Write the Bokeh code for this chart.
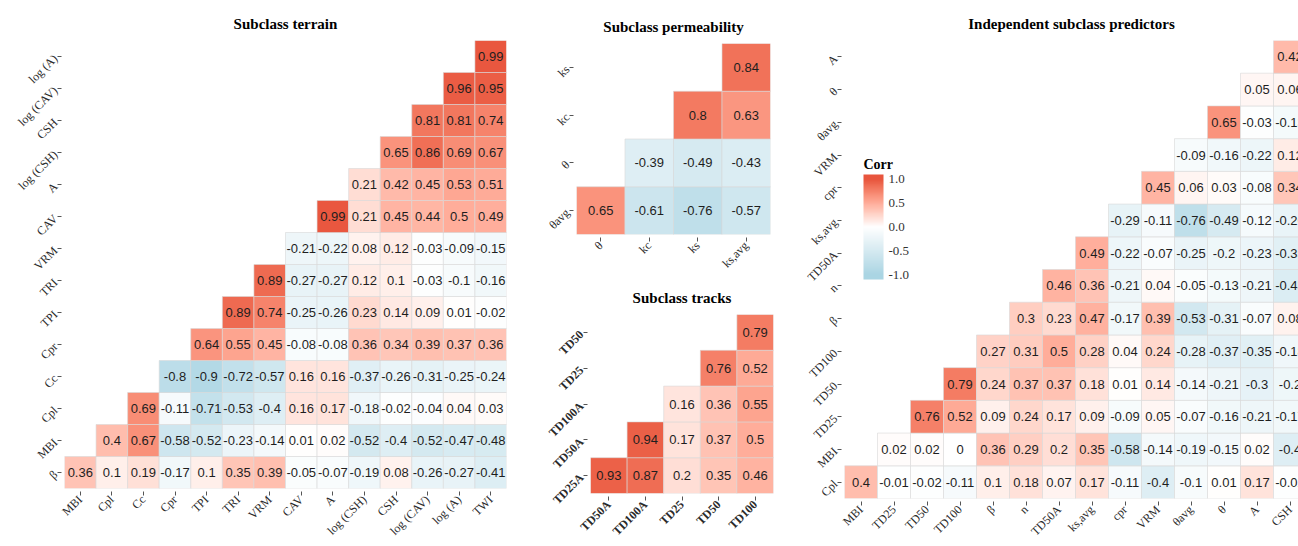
import math
import numpy as np
from bokeh.plotting import figure
from bokeh.layouts import row, column
from bokeh.models import (ColumnDataSource, LinearColorMapper, ColorBar, FixedTicker,
                          PrintfTickFormatter, Range1d, Label)
from bokeh.transform import transform
from bokeh.core.properties import value
from bokeh.embed import file_html
from bokeh.resources import INLINE

# ---------------- data (rows listed bottom -> top; row k starts at column k) -------------
terrain_x = ["MBI", "Cpl", "Cc", "Cpr", "TPI", "TRI", "VRM", "CAV", "A",
             "log (CSH)", "CSH", "log (CAV)", "log (A)", "TWI"]
terrain_y = ["β", "MBI", "Cpl", "Cc", "Cpr", "TPI", "TRI", "VRM", "CAV", "A",
             "log (CSH)", "CSH", "log (CAV)", "log (A)"]
terrain_r = [
    [0.36, 0.1, 0.19, -0.17, 0.1, 0.35, 0.39, -0.05, -0.07, -0.19, 0.08, -0.26, -0.27, -0.41],
    [0.4, 0.67, -0.58, -0.52, -0.23, -0.14, 0.01, 0.02, -0.52, -0.4, -0.52, -0.47, -0.48],
    [0.69, -0.11, -0.71, -0.53, -0.4, 0.16, 0.17, -0.18, -0.02, -0.04, 0.04, 0.03],
    [-0.8, -0.9, -0.72, -0.57, 0.16, 0.16, -0.37, -0.26, -0.31, -0.25, -0.24],
    [0.64, 0.55, 0.45, -0.08, -0.08, 0.36, 0.34, 0.39, 0.37, 0.36],
    [0.89, 0.74, -0.25, -0.26, 0.23, 0.14, 0.09, 0.01, -0.02],
    [0.89, -0.27, -0.27, 0.12, 0.1, -0.03, -0.1, -0.16],
    [-0.21, -0.22, 0.08, 0.12, -0.03, -0.09, -0.15],
    [0.99, 0.21, 0.45, 0.44, 0.5, 0.49],
    [0.21, 0.42, 0.45, 0.53, 0.51],
    [0.65, 0.86, 0.69, 0.67],
    [0.81, 0.81, 0.74],
    [0.96, 0.95],
    [0.99],
]

perm_x = ["θ", "kc", "ks", "ks,avg"]
perm_y = ["θavg", "θ", "kc", "ks"]
perm_r = [
    [0.65, -0.61, -0.76, -0.57],
    [-0.39, -0.49, -0.43],
    [0.8, 0.63],
    [0.84],
]

tracks_x = ["TD50A", "TD100A", "TD25", "TD50", "TD100"]
tracks_y = ["TD25A", "TD50A", "TD100A", "TD25", "TD50"]
tracks_r = [
    [0.93, 0.87, 0.2, 0.35, 0.46],
    [0.94, 0.17, 0.37, 0.5],
    [0.16, 0.36, 0.55],
    [0.76, 0.52],
    [0.79],
]

indep_x = ["MBI", "TD25", "TD50", "TD100", "β", "n", "TD50A", "ks,avg", "cpr", "VRM",
           "θavg", "θ", "A", "CSH"]
indep_y = ["Cpl", "MBI", "TD25", "TD50", "TD100", "β", "n", "TD50A", "ks,avg", "cpr",
           "VRM", "θavg", "θ", "A"]
indep_r = [
    [0.4, -0.01, -0.02, -0.11, 0.1, 0.18, 0.07, 0.17, -0.11, -0.4, -0.1, 0.01, 0.17, -0.02],
    [0.02, 0.02, 0, 0.36, 0.29, 0.2, 0.35, -0.58, -0.14, -0.19, -0.15, 0.02, -0.4],
    [0.76, 0.52, 0.09, 0.24, 0.17, 0.09, -0.09, 0.05, -0.07, -0.16, -0.21, -0.17],
    [0.79, 0.24, 0.37, 0.37, 0.18, 0.01, 0.14, -0.14, -0.21, -0.3, -0.2],
    [0.27, 0.31, 0.5, 0.28, 0.04, 0.24, -0.28, -0.37, -0.35, -0.18],
    [0.3, 0.23, 0.47, -0.17, 0.39, -0.53, -0.31, -0.07, 0.08],
    [0.46, 0.36, -0.21, 0.04, -0.05, -0.13, -0.21, -0.43],
    [0.49, -0.22, -0.07, -0.25, -0.2, -0.23, -0.35],
    [-0.29, -0.11, -0.76, -0.49, -0.12, -0.26],
    [0.45, 0.06, 0.03, -0.08, 0.34],
    [-0.09, -0.16, -0.22, 0.12],
    [0.65, -0.03, -0.13],
    [0.05, 0.06],
    [0.42],
]

colorbar_ticks = [-1.0, -0.5, 0.0, 0.5, 1.0]

# ---------------- colour scale (white midpoint, Lab interpolation) ----------------
LOW_COL = "#AAD5E3"
MID_COL = "#FFFFFF"
HIGH_COL = "#E8553D"


def _hex2rgb(h):
    h = h.lstrip("#")
    return np.array([int(h[i:i + 2], 16) / 255.0 for i in (0, 2, 4)])


def _rgb2lab(c):
    c = np.where(c > 0.04045, ((c + 0.055) / 1.055) ** 2.4, c / 12.92)
    M = np.array([[0.4124, 0.3576, 0.1805], [0.2126, 0.7152, 0.0722], [0.0193, 0.1192, 0.9505]])
    xyz = M @ c / np.array([0.95047, 1.0, 1.08883])
    f = np.where(xyz > 0.008856, np.cbrt(xyz), 7.787 * xyz + 16 / 116)
    return np.array([116 * f[1] - 16, 500 * (f[0] - f[1]), 200 * (f[1] - f[2])])


def _lab2hex(lab):
    fy = (lab[0] + 16) / 116
    fx = fy + lab[1] / 500
    fz = fy - lab[2] / 200
    f = np.array([fx, fy, fz])
    xyz = np.where(f ** 3 > 0.008856, f ** 3, (f - 16 / 116) / 7.787) * np.array([0.95047, 1.0, 1.08883])
    Mi = np.array([[3.2406, -1.5372, -0.4986], [-0.9689, 1.8758, 0.0415], [0.0557, -0.2040, 1.0570]])
    c = Mi @ xyz
    c = np.where(c > 0.0031308, 1.055 * np.clip(c, 0, None) ** (1 / 2.4) - 0.055, 12.92 * c)
    c = np.clip(np.round(c * 255), 0, 255).astype(int)
    return "#%02x%02x%02x" % tuple(c)


_LAB_LOW, _LAB_MID, _LAB_HIGH = (_rgb2lab(_hex2rgb(c)) for c in (LOW_COL, MID_COL, HIGH_COL))


def make_palette(lo, hi, n=221):
    pal = []
    for v in np.linspace(lo, hi, n):
        v = max(-1.0, min(1.0, v))
        if v < 0:
            lab = _LAB_MID + (-v) * (_LAB_LOW - _LAB_MID)
        else:
            lab = _LAB_MID + v * (_LAB_HIGH - _LAB_MID)
        pal.append(_lab2hex(lab))
    return pal


mapper = LinearColorMapper(palette=make_palette(-1, 1), low=-1, high=1)

SERIF = "Liberation Serif"
SANS = "Liberation Sans"


def panel(title, xs, ys, rows, width, height, borders, x_end=None, bold_labels=False):
    left, right, top, bottom = borders
    xv, yv, rv, lab = [], [], [], []
    for i, rvals in enumerate(rows):
        for j, r in enumerate(rvals):
            xv.append(i + j)
            yv.append(i)
            rv.append(r)
            lab.append("%g" % r)
    src = ColumnDataSource(dict(x=xv, y=yv, r=rv, label=lab))
    n = len(xs)
    p = figure(width=width, height=height, title=title,
               x_range=Range1d(-0.5, n - 0.5 if x_end is None else x_end),
               y_range=Range1d(-0.5, len(ys) - 0.5),
               output_backend="svg", toolbar_location=None,
               min_border_left=left, min_border_right=right,
               min_border_top=top, min_border_bottom=bottom)
    p.rect("x", "y", width=1, height=1, source=src,
           fill_color=transform("r", mapper), line_color="#d8d8d8", line_width=0.6)
    p.text("x", "y", text="label", source=src, text_align="center", text_baseline="middle",
           text_font=value(SANS), text_font_size="13px", text_color="#1e1e1e")
    p.grid.visible = False
    p.outline_line_color = None
    p.background_fill_color = "white"
    p.border_fill_color = "white"
    p.title.text_font = SERIF
    p.title.text_font_style = "bold"
    p.title.text_font_size = "15px"
    p.title.align = "center"
    p.title.text_color = "black"
    p.title.standoff = 17
    p.xaxis.ticker = FixedTicker(ticks=list(range(n)))
    p.xaxis.major_label_overrides = {i: s for i, s in enumerate(xs)}
    p.yaxis.ticker = FixedTicker(ticks=list(range(len(ys))))
    p.yaxis.major_label_overrides = {i: s for i, s in enumerate(ys)}
    for ax in (p.xaxis, p.yaxis):
        ax.axis_line_color = None
        ax.major_tick_in = -3
        ax.major_tick_out = 7
        ax.major_tick_line_color = "#555555"
        ax.minor_tick_line_color = None
        ax.major_label_orientation = math.pi / 4
        ax.major_label_standoff = 2
        ax.major_label_text_font = SERIF
        ax.major_label_text_font_size = "12px"
        ax.major_label_text_color = "#2a2a2a"
        if bold_labels:
            ax.major_label_text_font_style = "bold"
    return p


# canvas starts at the page's top-left corner
p1 = panel("Subclass terrain", terrain_x, terrain_y, terrain_r, 514, 546, (64, 8, 40, 58))
p2 = panel("Subclass permeability", perm_x, perm_y, perm_r, 280, 278, (62, 24, 43, 40))
p3 = panel("Subclass tracks", tracks_x, tracks_y, tracks_r, 280, 268, (76, 21, 36, 48),
           bold_labels=True)
p4 = panel("Independent subclass predictors", indep_x, indep_y, indep_r, 504, 546,
           (50, 0, 40, 44), x_end=len(indep_x) - 0.5 - 8 / 33)

cb_mapper = LinearColorMapper(palette=make_palette(-1.1, 1.1), low=-1.1, high=1.1)
cb = ColorBar(color_mapper=cb_mapper, orientation="vertical", location=(19, 219),
              width=20, height=105, padding=0, title=None,
              ticker=FixedTicker(ticks=colorbar_ticks), formatter=PrintfTickFormatter(format="%.1f"),
              major_label_text_font=SERIF, major_label_text_font_size="13px",
              major_label_text_color="#333333", label_standoff=5,
              major_tick_line_color=None, minor_tick_line_color=None,
              bar_line_color=None, border_line_color=None, background_fill_color=None)
p4.add_layout(cb)
p4.add_layout(Label(x=-0.5, y=-0.5, x_offset=19, y_offset=334, text="Corr",
                    text_font=SERIF, text_font_style="bold", text_font_size="14px",
                    text_color="black", text_baseline="middle", text_align="left"))

# wrap each plot separately so that frames are not aligned across plots
layout = row(row(p1), column(row(p2), row(p3)), row(p4))
open("out.html", "w").write(file_html(layout, INLINE))
